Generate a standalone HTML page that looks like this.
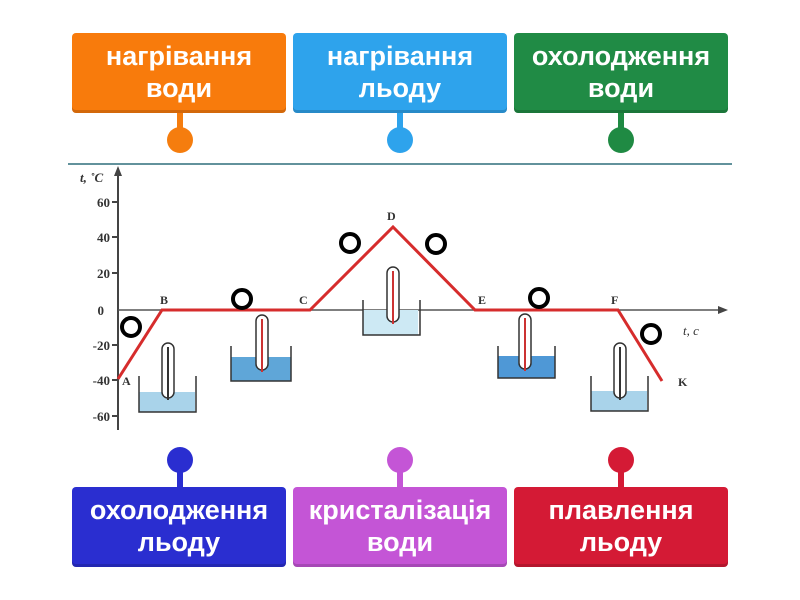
<!DOCTYPE html>
<html><head><meta charset="utf-8"><style>
body{margin:0;width:800px;height:600px;background:#fff;overflow:hidden;position:relative;font-family:"Liberation Sans",sans-serif}
.b{position:absolute;width:214px;height:80px;border-radius:4px;color:#fff;font-size:27px;font-weight:bold;line-height:32px;text-align:center;display:flex;align-items:center;justify-content:center;box-shadow:inset 0 -3px 0 rgba(0,0,0,.15);padding-bottom:2px;box-sizing:border-box}
</style></head><body>
<svg width="800" height="600" style="position:absolute;left:0;top:0" font-family="Liberation Serif,serif">
<line x1="68" y1="164" x2="732" y2="164" stroke="#2e6f7c" stroke-width="1.5"/>
<g stroke-width="6">
<line x1="180" y1="112" x2="180" y2="140" stroke="#f57d0e"/><circle cx="180" cy="140" r="13" fill="#f57d0e" stroke="none"/>
<line x1="400" y1="112" x2="400" y2="140" stroke="#2ea3ec"/><circle cx="400" cy="140" r="13" fill="#2ea3ec" stroke="none"/>
<line x1="621" y1="112" x2="621" y2="140" stroke="#1f8a43"/><circle cx="621" cy="140" r="13" fill="#1f8a43" stroke="none"/>
<line x1="180" y1="460" x2="180" y2="488" stroke="#2a2ed0"/><circle cx="180" cy="460" r="13" fill="#2a2ed0" stroke="none"/>
<line x1="400" y1="460" x2="400" y2="488" stroke="#c455d6"/><circle cx="400" cy="460" r="13" fill="#c455d6" stroke="none"/>
<line x1="621" y1="460" x2="621" y2="488" stroke="#d41a35"/><circle cx="621" cy="460" r="13" fill="#d41a35" stroke="none"/>
</g>
<line x1="118" y1="430" x2="118" y2="172" stroke="#444" stroke-width="2"/>
<polygon points="118,166 114,176 122,176" fill="#444"/>
<line x1="118" y1="310" x2="722" y2="310" stroke="#555" stroke-width="1.5"/>
<polygon points="728,310 718,306 718,314" fill="#444"/>
<g stroke="#444" stroke-width="2">
<line x1="112" y1="202" x2="118" y2="202"/><line x1="112" y1="237" x2="118" y2="237"/><line x1="112" y1="273" x2="118" y2="273"/><line x1="112" y1="345" x2="118" y2="345"/><line x1="112" y1="380" x2="118" y2="380"/><line x1="112" y1="416" x2="118" y2="416"/></g>
<g font-size="13" font-weight="bold" fill="#333" text-anchor="end">
<text x="110" y="207">60</text><text x="110" y="242">40</text><text x="110" y="278">20</text><text x="104" y="315">0</text><text x="110" y="350">-20</text><text x="110" y="385">-40</text><text x="110" y="421">-60</text></g>
<text x="80" y="182" font-size="13" font-style="italic" font-weight="bold" fill="#333">t, ˚C</text>
<text x="683" y="335" font-size="13" font-style="italic" fill="#333">t, c</text>
<g font-size="12" fill="#333" font-weight="bold">
<text x="122" y="385">A</text><text x="160" y="304">B</text><text x="299" y="304">C</text><text x="387" y="220">D</text><text x="478" y="304">E</text><text x="611" y="304">F</text><text x="678" y="386">K</text></g>
<g stroke="#333" stroke-width="1.5" fill="none">
<rect x="139" y="392" width="56" height="20" fill="#a9d3ea" stroke="none"/><polyline points="139,376 139,412 196,412 196,376"/>
<rect x="231" y="357" width="60" height="24" fill="#5fa6d8" stroke="none"/><polyline points="231,346 231,381 291,381 291,346"/>
<rect x="363" y="310" width="55" height="25" fill="#cde9f4" stroke="none"/><polyline points="363,300 363,335 420,335 420,300"/>
<rect x="498" y="356" width="57" height="22" fill="#4f98d6" stroke="none"/><polyline points="498,346 498,378 555,378 555,346"/>
<rect x="591" y="391" width="56" height="20" fill="#a9d3ea" stroke="none"/><polyline points="591,376 591,411 648,411 648,376"/>
</g>
<g fill="#fff" stroke="#333" stroke-width="1.5">
<rect x="162" y="343" width="12" height="55" rx="6"/><rect x="256" y="315" width="12" height="55" rx="6"/><rect x="387" y="267" width="12" height="55" rx="6"/><rect x="519" y="314" width="12" height="55" rx="6"/><rect x="614" y="343" width="12" height="55" rx="6"/></g>
<g stroke-width="2"><line x1="168" y1="347" x2="168" y2="400" stroke="#333"/><line x1="262" y1="319" x2="262" y2="372" stroke="#c33"/><line x1="393" y1="271" x2="393" y2="324" stroke="#c33"/><line x1="525" y1="318" x2="525" y2="371" stroke="#c33"/><line x1="620" y1="347" x2="620" y2="400" stroke="#333"/></g>
<polyline points="118,379 162,310 310,310 393,227 475,310 618,310 662,381" fill="none" stroke="#d62c2c" stroke-width="3"/>
<g fill="none" stroke="#000" stroke-width="4">
<circle cx="131" cy="327" r="9"/><circle cx="242" cy="299" r="9"/><circle cx="350" cy="243" r="9"/><circle cx="436" cy="244" r="9"/><circle cx="539" cy="298" r="9"/><circle cx="651" cy="334" r="9"/></g>
</svg>
<div class="b" style="left:72px;top:33px;background:#f87b0c">нагрівання<br>води</div>
<div class="b" style="left:293px;top:33px;background:#2ea3ec">нагрівання<br>льоду</div>
<div class="b" style="left:514px;top:33px;background:#208b45">охолодження<br>води</div>
<div class="b" style="left:72px;top:487px;background:#2a2ed0">охолодження<br>льоду</div>
<div class="b" style="left:293px;top:487px;background:#c455d6">кристалізація<br>води</div>
<div class="b" style="left:514px;top:487px;background:#d41a35">плавлення<br>льоду</div>
</body></html>
